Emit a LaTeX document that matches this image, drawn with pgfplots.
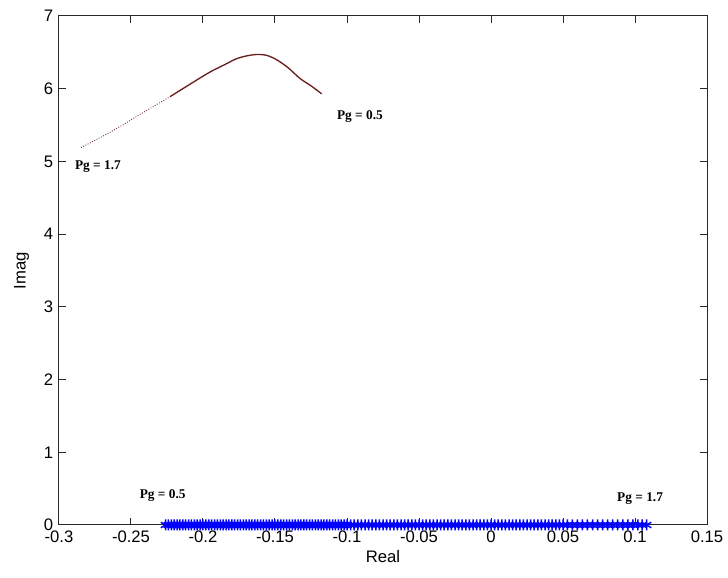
\documentclass[border=0pt]{standalone}
\usepackage{fontspec}
\setmainfont{Liberation Sans}
\newfontfamily\pgfont{Liberation Serif}
\usepackage{pgfplots}
\pgfplotsset{compat=1.18}
\definecolor{locusred}{RGB}{105,30,30}
\definecolor{axisgray}{RGB}{40,40,40}

\newcommand{\pglabel}[1]{{\pgfont\bfseries\fontsize{8}{9}\selectfont #1}}

\begin{document}
\begin{tikzpicture}
\useasboundingbox (-35.4pt,-31.8pt) rectangle (401.4pt,315pt);
\begin{axis}[
    scale only axis,
    width=388.8pt,
    height=305.4pt,
    xmin=-0.3, xmax=0.15,
    ymin=0, ymax=7,
    xtick={-0.3,-0.25,-0.2,-0.15,-0.1,-0.05,0,0.05,0.1,0.15},
    xticklabels={-0.3,-0.25,-0.2,-0.15,-0.1,-0.05,0,0.05,0.1,0.15},
    ytick={0,1,2,3,4,5,6,7},
    yticklabels={0,1,2,3,4,5,6,7},
    tick align=inside,
    xtick pos=both, ytick pos=both,
    xticklabel pos=bottom, yticklabel pos=left,
    major tick length=4.2pt,
    axis line style={axisgray, line width=0.6pt},
    every tick/.style={axisgray, line width=0.6pt},
    tick label style={font=\fontsize{10}{12}\selectfont},
    label style={font=\fontsize{10}{12}\selectfont},
    xlabel={Real},
    ylabel={Imag},
    xlabel style={yshift=2pt},
    ylabel style={yshift=2pt},
    clip=false,
]
% complex pair, Pg from 1.7 (left) to 0.5 (right)
\addplot[locusred, line width=0.5pt, densely dotted] coordinates {
(-0.2847,5.19) (-0.275,5.29) (-0.2646,5.40) (-0.255,5.51) (-0.2460,5.62)
(-0.235,5.75) (-0.2229,5.89)
};
\addplot[locusred, line width=0.8pt, smooth] coordinates {
(-0.2229,5.89) (-0.210,6.05) (-0.1951,6.23) (-0.185,6.33) (-0.177,6.41)
(-0.170,6.45) (-0.163,6.47) (-0.156,6.46) (-0.149,6.40) (-0.141,6.29)
(-0.1326,6.14) (-0.125,6.04) (-0.1176,5.93)
};
% real eigenvalue, Pg from 0.5 (left) to 1.7 (right)
\addplot[only marks, mark=asterisk, mark size=3.3pt, blue,
         mark options={line width=0.9pt}] coordinates {
(-0.226,0) (-0.224,0) (-0.222,0) (-0.220,0) (-0.218,0) (-0.216,0) (-0.214,0)
(-0.212,0) (-0.210,0) (-0.208,0) (-0.206,0) (-0.204,0) (-0.202,0) (-0.200,0)
(-0.198,0) (-0.196,0) (-0.194,0) (-0.192,0) (-0.190,0) (-0.188,0) (-0.186,0)
(-0.184,0) (-0.182,0) (-0.180,0) (-0.178,0) (-0.176,0) (-0.174,0) (-0.172,0)
(-0.170,0) (-0.168,0) (-0.166,0) (-0.164,0) (-0.162,0) (-0.160,0) (-0.158,0)
(-0.156,0) (-0.154,0) (-0.152,0) (-0.150,0) (-0.148,0) (-0.146,0) (-0.144,0)
(-0.142,0) (-0.140,0) (-0.138,0) (-0.136,0) (-0.134,0) (-0.132,0) (-0.130,0)
(-0.128,0) (-0.126,0) (-0.124,0) (-0.122,0) (-0.120,0) (-0.118,0) (-0.116,0)
(-0.114,0) (-0.112,0) (-0.110,0) (-0.108,0) (-0.106,0) (-0.104,0) (-0.102,0)
(-0.100,0)
(-0.0975,0) (-0.095,0) (-0.0925,0) (-0.090,0) (-0.0875,0) (-0.085,0)
(-0.0825,0) (-0.080,0) (-0.0775,0) (-0.075,0) (-0.0725,0) (-0.070,0)
(-0.0675,0) (-0.065,0) (-0.0625,0) (-0.060,0) (-0.0575,0) (-0.055,0)
(-0.0525,0) (-0.050,0) (-0.0475,0) (-0.045,0) (-0.0425,0) (-0.040,0)
(-0.0375,0) (-0.035,0) (-0.0325,0) (-0.030,0) (-0.0275,0) (-0.025,0)
(-0.0225,0) (-0.020,0) (-0.0175,0) (-0.015,0) (-0.0125,0) (-0.010,0)
(-0.0075,0) (-0.005,0) (-0.0025,0) (0.000,0) (0.0025,0) (0.005,0)
(0.0075,0) (0.010,0) (0.0125,0) (0.015,0) (0.0175,0) (0.020,0)
(0.0225,0) (0.025,0) (0.0275,0) (0.030,0) (0.0325,0) (0.035,0)
(0.0375,0) (0.040,0) (0.0425,0) (0.045,0) (0.0475,0) (0.050,0)
(0.053,0) (0.0565,0) (0.060,0) (0.0635,0) (0.067,0) (0.0705,0) (0.074,0)
(0.0775,0) (0.081,0) (0.0845,0) (0.088,0) (0.0915,0) (0.095,0) (0.0985,0)
(0.102,0) (0.105,0) (0.108,0)
};
\node at (axis cs:-0.273,4.93) {\pglabel{Pg = 1.7}};
\node at (axis cs:-0.091,5.62) {\pglabel{Pg = 0.5}};
\node at (axis cs:-0.228,0.40) {\pglabel{Pg = 0.5}};
\node at (axis cs:0.1035,0.36) {\pglabel{Pg = 1.7}};
\end{axis}
\end{tikzpicture}
\end{document}
